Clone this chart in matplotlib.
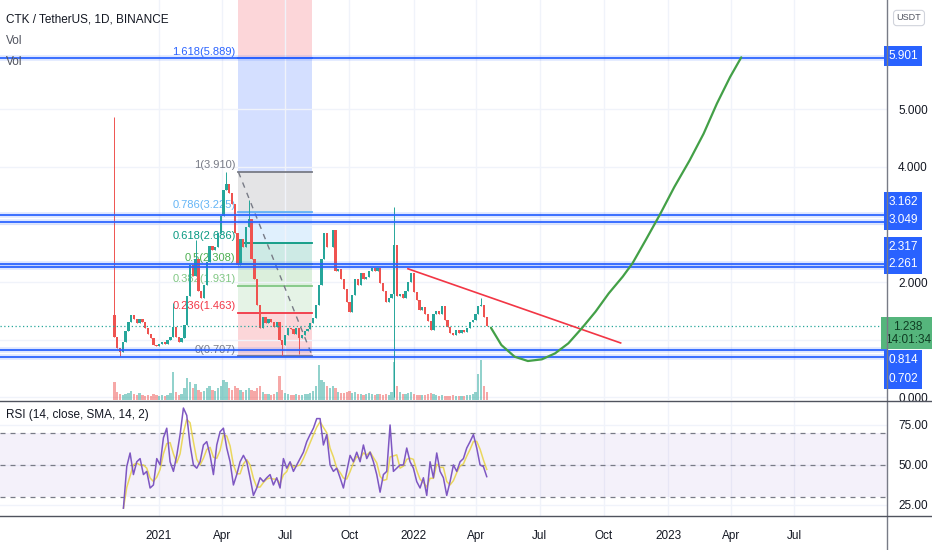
import matplotlib
matplotlib.use("Agg")
import matplotlib.pyplot as plt
import matplotlib.dates as mdates
from matplotlib.lines import Line2D
import numpy as np
import pandas as pd

plt.rcParams['font.family'] = ['Liberation Sans', 'DejaVu Sans']

# ---- candles (4-day steps) ----
candle_start, candle_end = "2020-10-29", "2022-04-16"
first_open = 1.43
closes = [
    1.05, 0.85, 0.78, 0.95, 1.15, 1.30, 1.42, 1.35, 1.28, 1.36,
    1.30, 1.20, 1.10, 1.02, 0.90, 0.88, 0.92, 0.95, 0.93, 0.99,
    1.05, 1.22, 1.05, 0.96, 1.02, 1.25, 1.75, 2.30, 2.10, 2.40,
    1.85, 1.72, 1.95, 2.35, 2.62, 2.55, 2.60, 2.85, 3.15, 3.60,
    3.70, 3.55, 3.35, 2.85, 2.30, 2.75, 2.60, 2.95, 3.10, 2.40,
    2.05, 1.60, 1.20, 1.39, 1.28, 1.36, 1.30, 1.22, 1.30, 1.00,
    0.90, 1.08, 1.20, 1.18, 1.10, 1.20, 1.02, 1.08, 1.14, 1.18,
    1.28, 1.38, 1.60, 1.95, 2.40, 2.85, 2.60, 2.60, 2.90, 2.20,
    2.22, 2.05, 1.88, 1.65, 1.48, 1.78, 2.05, 1.95, 2.15, 2.05,
    2.08, 2.20, 2.25, 2.20, 2.25, 1.98, 1.85, 1.65, 1.72, 1.80,
    2.65, 1.75, 1.80, 1.72, 1.85, 2.00, 2.15, 1.82, 1.68, 1.52,
    1.57, 1.45, 1.32, 1.17, 1.45, 1.50, 1.45, 1.58, 1.34, 1.22,
    1.12, 1.08, 1.17, 1.12, 1.17, 1.13, 1.20, 1.30, 1.34, 1.45,
    1.58, 1.60, 1.40, 1.238,
]
wick_highs = {0: 4.87, 21: 1.63, 29: 2.73, 40: 3.91, 48: 3.43, 100: 3.30, 131: 1.72}
wick_lows = {2: 0.72, 60: 0.707, 66: 0.75, 100: 0.0}
volumes = [
    18, 8, 6, 5, 6, 7, 9, 6, 5, 7,
    5, 4, 5, 4, 6, 5, 4, 5, 4, 5,
    7, 28, 8, 5, 6, 12, 22, 18, 12, 16,
    10, 8, 9, 12, 14, 10, 9, 12, 14, 20,
    18, 12, 10, 14, 12, 10, 8, 10, 12, 10,
    9, 12, 14, 8, 6, 6, 5, 6, 8, 24,
    10, 7, 6, 5, 5, 6, 5, 5, 6, 6,
    7, 9, 14, 35, 20, 18, 14, 12, 14, 12,
    8, 7, 7, 8, 9, 7, 8, 6, 6, 5,
    6, 7, 6, 5, 6, 6, 5, 6, 5, 8,
    38, 14, 8, 6, 6, 7, 8, 6, 5, 5,
    5, 5, 6, 7, 6, 5, 4, 5, 4, 4,
    4, 5, 4, 4, 4, 4, 5, 5, 6, 8,
    26, 40, 14, 8,
]

# ---- RSI ----
rsi_start, rsi_end = "2020-11-11", "2022-04-16"
rsi_values = [
    23, 49, 57.5, 44, 52, 54, 44, 46, 35.6, 37.5,
    54, 50, 67, 73, 52, 46, 56, 69, 85.6, 81,
    62.5, 50, 48, 52, 62.5, 64.6, 56, 44, 62.5, 70.8,
    73, 60.6, 52, 37.5, 44, 52, 56, 52, 42, 31,
    35.6, 42, 39.6, 42, 44, 37.5, 42, 35.6, 54, 48,
    52, 46, 50, 54, 58, 64.6, 69, 73, 79, 79,
    62.5, 69, 50, 46, 48, 42, 35.6, 46, 56, 52,
    58, 52, 62.5, 54, 58, 52, 44, 33, 44, 46,
    75, 46, 48, 50, 50, 60.6, 52, 48, 39.6, 35.6,
    42, 31, 52, 42, 57.5, 46, 42, 31, 39.6, 50,
    46, 52, 54, 60.6, 64.6, 69, 60.6, 50, 49, 42.7,
]

# ---- drawings ----
hlines = [5.901, 3.162, 3.049, 2.317, 2.261, 0.814, 0.702]
hline_label_pos = [5.93, 3.39, 3.08, 2.61, 2.31, 0.643, 0.313]
last_price = 1.238
last_label_pos = 1.11
last_time = "14:01:34"

# price scale labels (1.000 and 3.000 sit under the level boxes)
price_ticks = [0, 1, 2, 3, 4, 5]
price_tick_labels = ["0.000", "", "2.000", "", "4.000", "5.000"]

fib_start, fib_end = "2021-04-25", "2021-08-09"
fib_high, fib_low = 3.910, 0.707
fib_levels = [0, 0.236, 0.382, 0.5, 0.618, 0.786, 1, 1.618, 2.618]
fib_names = ["0", "0.236", "0.382", "0.5", "0.618", "0.786", "1", "1.618", "2.618"]
fib_colors = ["#787b86", "#f23645", "#81c784", "#4caf50", "#089981",
              "#64b5f6", "#787b86", "#2962ff", "#f23645"]

trend_dates = ["2021-12-24", "2022-10-25"]
trend_prices = [2.23, 0.94]

curve_dates = ["2022-04-22", "2022-05-07", "2022-05-26", "2022-06-14", "2022-07-04",
               "2022-07-23", "2022-08-11", "2022-08-31", "2022-09-19", "2022-10-08",
               "2022-10-28", "2022-11-11", "2022-11-30", "2022-12-20", "2023-01-10",
               "2023-02-01", "2023-02-21", "2023-03-12", "2023-03-31", "2023-04-16"]
curve_prices = [1.205, 0.904, 0.701, 0.626, 0.655, 0.759, 0.933, 1.205, 1.484, 1.803,
                2.093, 2.325, 2.730, 3.165, 3.652, 4.116, 4.579, 5.101, 5.565, 5.907]

tick_dates = ["2021-01-01", "2021-04-01", "2021-07-01", "2021-10-01", "2022-01-01",
              "2022-04-01", "2022-07-01", "2022-10-01", "2023-01-01", "2023-04-01",
              "2023-07-01"]
tick_labels = ["2021", "Apr", "Jul", "Oct", "2022", "Apr", "Jul", "Oct", "2023", "Apr", "Jul"]

UP, DOWN = "#26a69a", "#ef5350"
TXT = "#131722"
GRID = "#f0f3fa"
BORDER = "#787b86"

fig = plt.figure(figsize=(9.32, 5.5), dpi=100)
W, H = 932, 550
ax = fig.add_axes([0, 150 / H, 887 / W, 400 / H])
ax_rsi = fig.add_axes([0, 34 / H, 887 / W, 115 / H])

xlim = mdates.date2num(pd.to_datetime(["2020-05-18", "2023-11-11"]))
tick_x = mdates.date2num(pd.to_datetime(tick_dates))

dates = pd.date_range(candle_start, candle_end, periods=len(closes))
cx = mdates.date2num(dates)
opens = [first_open] + closes[:-1]
o = np.array(opens)
c = np.array(closes)
colors = np.where(c >= o, UP, DOWN)

# volume overlay (made first so the price axis keeps its right-hand ticks)
vax = ax.twinx()
vax.set_xlim(*xlim)
vax.set_ylim(0, 400)
vax.bar(cx, volumes, width=3.3, color=colors, alpha=0.5, lw=0)
vax.axis('off')

# ---- main pane ----
ax.set_xlim(*xlim)
ax.set_ylim(-0.052, 6.904)
ax.set_xticks(tick_x)
ax.set_xticklabels([])
ax.set_yticks(price_ticks)
ax.set_yticklabels(price_tick_labels)
ax.yaxis.tick_right()
ax.tick_params(axis='y', length=0, pad=8, labelsize=8.5, labelcolor=TXT,
               left=False, labelleft=False, right=False, labelright=True)
ax.tick_params(axis='x', length=0)
ax.grid(True, color=GRID, lw=1, zorder=0)
for s in ax.spines.values():
    s.set_visible(False)

# fib retracement
fx0, fx1 = mdates.date2num(pd.to_datetime([fib_start, fib_end]))
fib_prices = [fib_low + lv * (fib_high - fib_low) for lv in fib_levels]
for i in range(len(fib_levels) - 1):
    ax.fill_between([fx0, fx1], fib_prices[i], fib_prices[i + 1],
                    color=fib_colors[i + 1], alpha=0.2, lw=0, zorder=1)
for name, p, col in zip(fib_names[:-1], fib_prices[:-1], fib_colors[:-1]):
    ax.plot([fx0, fx1], [p, p], color=col, lw=1.3, zorder=2)
    ax.text(fx0 - 4, p + 0.03, f"{name}({p:.3f})", color=col, fontsize=8,
            ha='right', va='bottom', zorder=2)
ax.plot([fx0, fx1], [fib_high, fib_low], color=BORDER, lw=1, ls=(0, (4, 4)), zorder=2)

# candles
highs = [wick_highs.get(i, max(a, b)) for i, (a, b) in enumerate(zip(opens, closes))]
lows = [wick_lows.get(i, min(a, b)) for i, (a, b) in enumerate(zip(opens, closes))]
ax.vlines(cx, lows, highs, colors=colors, lw=0.7, zorder=3)
ax.bar(cx, np.maximum(np.abs(c - o), 0.012), bottom=np.minimum(o, c), width=3.3,
       color=colors, lw=0, zorder=3)

# horizontal levels
for p in hlines:
    ax.axhline(p, color="#2962ff", lw=4, alpha=0.15, zorder=4)
    ax.axhline(p, color="#2962ff", lw=1.4, alpha=0.9, zorder=4)

# current price
ax.axhline(last_price, color=UP, lw=0.9, ls=(0, (1, 2)), zorder=4)

# trend line and projection curve
ax.plot(mdates.date2num(pd.to_datetime(trend_dates)), trend_prices,
        color="#f23645", lw=1.2, zorder=5)
ax.plot(mdates.date2num(pd.to_datetime(curve_dates)), curve_prices,
        color="#43a047", lw=1.6, zorder=5, solid_capstyle='round')

# right-hand price labels
for p, pos in zip(hlines, hline_label_pos):
    ax.text(903 / 887, pos, f"{p:.3f}", transform=ax.get_yaxis_transform(),
            ha='center', va='center', fontsize=8.5, color='white', clip_on=False,
            bbox=dict(boxstyle='square,pad=0.32', fc='#2962ff', ec='none'), zorder=10)
ax.text(908 / 887, last_label_pos, f"{last_price:.3f}\n{last_time}",
        transform=ax.get_yaxis_transform(), ha='center', va='center', fontsize=8.5,
        color='#0f3d23', clip_on=False, linespacing=1.1,
        bbox=dict(boxstyle='square,pad=0.3', fc='#55b57c', ec='none'), zorder=10)

# ---- RSI pane ----
rdates = mdates.date2num(pd.date_range(rsi_start, rsi_end, periods=len(rsi_values)))
rsi_sma = pd.Series(rsi_values).rolling(3, min_periods=1).mean()
ax_rsi.set_xlim(*xlim)
ax_rsi.set_ylim(18.1, 90)
ax_rsi.axhspan(30, 70, color="#7e57c2", alpha=0.08, lw=0)
for lv in (70, 50, 30):
    ax_rsi.axhline(lv, color=BORDER, lw=0.9, ls=(0, (4, 4)))
ax_rsi.plot(rdates, rsi_sma, color="#e9d44c", lw=1.1, alpha=0.9)
ax_rsi.plot(rdates, rsi_values, color="#7e57c2", lw=1.1)
ax_rsi.set_yticks([25, 50, 75])
ax_rsi.set_yticklabels(["25.00", "50.00", "75.00"])
ax_rsi.yaxis.tick_right()
ax_rsi.set_xticks(tick_x)
ax_rsi.set_xticklabels(tick_labels)
ax_rsi.tick_params(axis='y', length=0, pad=8, labelsize=8.5, labelcolor=TXT)
ax_rsi.tick_params(axis='x', length=0, pad=10, labelsize=8.5, labelcolor=TXT)
ax_rsi.grid(True, color=GRID, lw=1, zorder=0)
ax_rsi.set_axisbelow(True)
for s in ax_rsi.spines.values():
    s.set_visible(False)

# pane borders
fig.add_artist(Line2D([887 / W, 887 / W], [0, 1], color=BORDER, lw=1))
fig.add_artist(Line2D([0, 1], [1 - 400.5 / H, 1 - 400.5 / H], color="#50535e", lw=1))
fig.add_artist(Line2D([0, 1], [1 - 516 / H, 1 - 516 / H], color="#50535e", lw=1))

# legend texts
fig.text(6 / W, 1 - 19 / H, "CTK / TetherUS, 1D, BINANCE", fontsize=8.5, color=TXT, va='center')
fig.text(6 / W, 1 - 41 / H, "Vol", fontsize=8.5, color="#50535e", va='center')
fig.text(6 / W, 1 - 62 / H, "Vol", fontsize=8.5, color="#50535e", va='center')
fig.text(6 / W, 1 - 415 / H, "RSI (14, close, SMA, 14, 2)", fontsize=8.5, color=TXT, va='center')
fig.text(909 / W, 1 - 18 / H, "USDT", fontsize=6.5, color="#50535e", ha='center', va='center',
         bbox=dict(boxstyle='round,pad=0.35', fc='white', ec='#d1d4dc', lw=0.8))

fig.savefig("out.png", dpi=100)
